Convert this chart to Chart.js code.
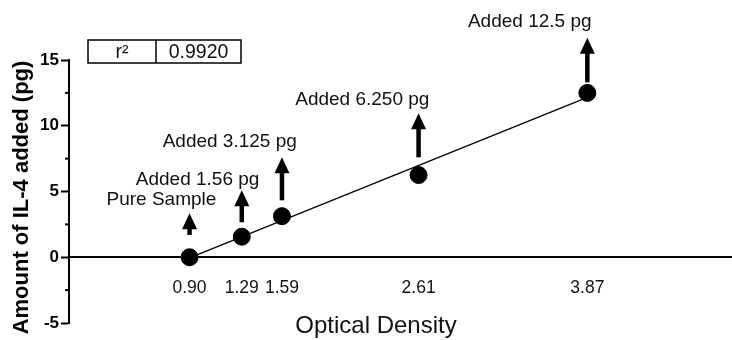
<!DOCTYPE html>
<html>
<head>
<meta charset="utf-8">
<script src="https://cdn.jsdelivr.net/npm/chart.js@4/dist/chart.umd.min.js"></script>
<style>
  html, body { margin: 0; padding: 0; background: #fff; }
  canvas { display: block; }
</style>
</head>
<body>
<canvas id="c" width="732" height="340"></canvas>
<script>
// ---- data ----
const xValues = [0.90, 1.29, 1.59, 2.61, 3.87];          // optical density
const yValues = [0, 1.56, 3.125, 6.25, 12.5];            // IL-4 added (pg)
const xTickLabels = ['0.90', '1.29', '1.59', '2.61', '3.87'];
const yTickLabels = [-5, 0, 5, 10, 15];
const pointLabels = ['Pure Sample', 'Added 1.56 pg', 'Added 3.125 pg', 'Added 6.250 pg', 'Added 12.5 pg'];
const r2Label = 'r\u00B2';
const r2Value = '0.9920';
const xTitle = 'Optical Density';
const yTitle = 'Amount of IL-4 added (pg)';

// ---- annotation layout (data units) ----
const arrowLayout = [
  { tip: 3.35,  base: 1.7,  lx: 0.69, ly: 3.95 },
  { tip: 5.1,   base: 2.66, lx: 0.96, ly: 5.5 },
  { tip: 7.6,   base: 4.33, lx: 1.20, ly: 8.4 },
  { tip: 10.95, base: 7.6,  lx: 2.19, ly: 11.6 },
  { tip: 16.7,  base: 13.3, lx: 3.44, ly: 17.5 }
];

// least-squares fit line through the measured points
const n = xValues.length;
const mx = xValues.reduce((a, b) => a + b, 0) / n;
const my = yValues.reduce((a, b) => a + b, 0) / n;
let sxy = 0, sxx = 0;
for (let i = 0; i < n; i++) { sxy += (xValues[i] - mx) * (yValues[i] - my); sxx += (xValues[i] - mx) ** 2; }
const slope = sxy / sxx, icpt = my - slope * mx;
const fitX = [xValues[0], xValues[n - 1]];

const FONT = "'Liberation Sans', Arial, Helvetica, sans-serif";

const annot = {
  id: 'annot',
  afterDraw(chart) {
    const { ctx, scales: { x, y }, chartArea } = chart;
    ctx.save();
    ctx.fillStyle = '#000';
    ctx.strokeStyle = '#000';
    // minor y ticks
    ctx.lineWidth = 2;
    y.ticks.forEach(t => {
      if (t.value % 5 !== 0) {
        const py = y.getPixelForValue(t.value);
        ctx.beginPath(); ctx.moveTo(chartArea.left - 4, py); ctx.lineTo(chartArea.left, py); ctx.stroke();
      }
    });
    // arrows + labels
    arrowLayout.forEach((a, i) => {
      const px = x.getPixelForValue(xValues[i]);
      const tip = y.getPixelForValue(a.tip);
      const base = y.getPixelForValue(a.base);
      ctx.lineWidth = 4.5;
      ctx.beginPath(); ctx.moveTo(px, base); ctx.lineTo(px, tip + 12); ctx.stroke();
      ctx.beginPath(); ctx.moveTo(px, tip); ctx.lineTo(px - 7.5, tip + 16); ctx.lineTo(px + 7.5, tip + 16); ctx.closePath(); ctx.fill();
      ctx.font = '19px ' + FONT;
      ctx.textAlign = 'center';
      ctx.textBaseline = 'alphabetic';
      ctx.fillStyle = '#111';
      ctx.fillText(pointLabels[i], x.getPixelForValue(a.lx), y.getPixelForValue(a.ly));
      ctx.fillStyle = '#000';
    });
    // r² table
    const tl = chartArea.left + 19, tt = chartArea.top - 20, w1 = 68, w2 = 85, h = 23;
    ctx.lineWidth = 1.5;
    ctx.strokeRect(tl, tt, w1 + w2, h);
    ctx.beginPath(); ctx.moveTo(tl + w1, tt); ctx.lineTo(tl + w1, tt + h); ctx.stroke();
    ctx.font = '19.5px ' + FONT;
    ctx.textAlign = 'center';
    ctx.textBaseline = 'middle';
    ctx.fillStyle = '#111';
    ctx.fillText(r2Label, tl + w1 / 2, tt + h / 2 + 1);
    ctx.fillText(r2Value, tl + w1 + w2 / 2, tt + h / 2 + 1);
    // x title
    ctx.font = '24px ' + FONT;
    ctx.textBaseline = 'alphabetic';
    ctx.fillText(xTitle, chartArea.left + (chartArea.right - chartArea.left) * 0.463, 333);
    // y title
    ctx.translate(22, (chartArea.top + chartArea.bottom) / 2 + 6);
    ctx.rotate(-Math.PI / 2);
    ctx.font = 'bold 22px ' + FONT;
    ctx.textBaseline = 'middle';
    ctx.fillStyle = '#000';
    ctx.fillText(yTitle, 0, 0);
    ctx.restore();
  }
};

new Chart(document.getElementById('c'), {
  type: 'scatter',
  data: {
    datasets: [
      {
        label: 'fit',
        data: fitX.map(v => ({ x: v, y: icpt + slope * v })),
        showLine: true,
        borderColor: '#000',
        borderWidth: 1.3,
        pointRadius: 0,
        order: 2
      },
      {
        label: 'IL-4',
        data: xValues.map((v, i) => ({ x: v, y: yValues[i] })),
        backgroundColor: '#000',
        borderColor: '#000',
        pointRadius: 8.5,
        pointHoverRadius: 8.5,
        order: 1
      }
    ]
  },
  options: {
    responsive: false,
    animation: false,
    devicePixelRatio: 1,
    layout: { autoPadding: false, padding: { top: 60, bottom: 17, left: 0, right: 0 } },
    plugins: { legend: { display: false }, tooltip: { enabled: false } },
    scales: {
      x: {
        type: 'linear',
        min: 0,
        max: 4.95,
        position: { y: 0 },
        afterFit(s) { s.height = 0; s.paddingLeft = 0; s.paddingRight = 0; },
        afterBuildTicks(s) { s.ticks = xValues.map(v => ({ value: v })); },
        grid: { display: true, drawOnChartArea: false, drawTicks: false },
        border: { display: true, color: '#000', width: 2 },
        ticks: {
          autoSkip: false,
          maxRotation: 0,
          padding: 20,
          color: '#111',
          font: { family: FONT, size: 17.5 },
          callback: (v, i) => xTickLabels[i]
        }
      },
      y: {
        type: 'linear',
        min: -5,
        max: 15,
        afterFit(s) { s.width = 69; },
        grid: {
          drawOnChartArea: false,
          drawTicks: true,
          tickLength: 8,
          tickWidth: 2,
          tickColor: ctx => (ctx.tick && ctx.tick.value % 5 === 0) ? '#000' : 'rgba(0,0,0,0)'
        },
        border: { display: true, color: '#000', width: 2 },
        ticks: {
          stepSize: 2.5,
          padding: 2,
          color: '#000',
          font: { family: FONT, size: 17, weight: 'bold' },
          callback: v => yTickLabels.includes(v) ? String(v) : ''
        },
        title: { display: false }
      }
    }
  },
  plugins: [annot]
});
</script>
</body>
</html>
